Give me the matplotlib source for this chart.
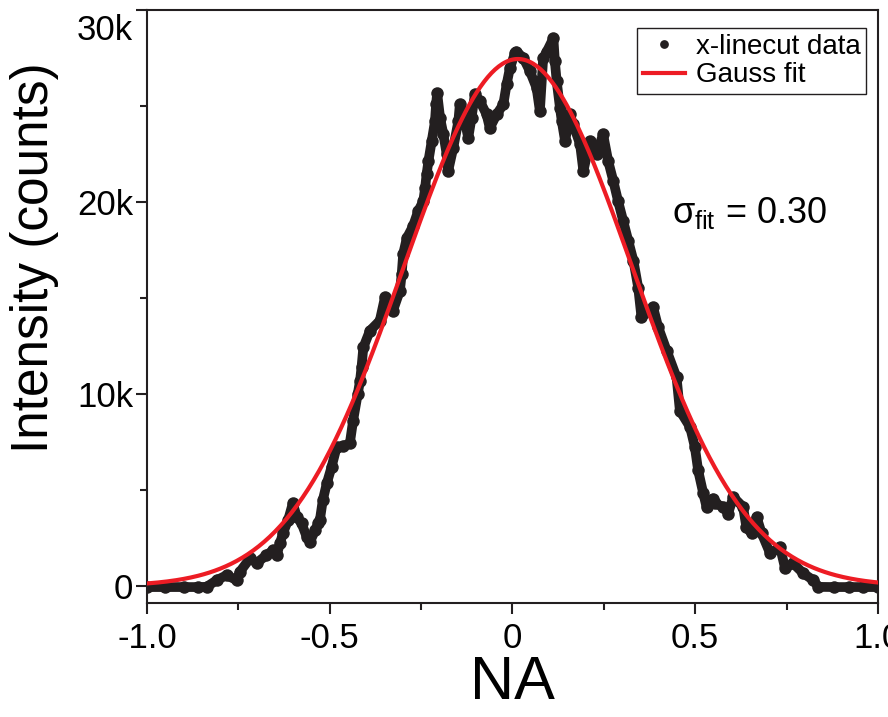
import numpy as np
import matplotlib
matplotlib.use("Agg")
import matplotlib.pyplot as plt
from matplotlib.transforms import ScaledTranslation

plt.rcParams['font.family'] = ['Liberation Sans', 'DejaVu Sans']
plt.rcParams['mathtext.fontset'] = 'custom'
plt.rcParams['mathtext.rm'] = 'Liberation Sans'
plt.rcParams['mathtext.it'] = 'Liberation Sans'

# x-linecut data
na = [-1.0, -0.95, -0.90, -0.86, -0.837, -0.809, -0.782, -0.755, -0.746, -0.718,
      -0.700, -0.673, -0.655, -0.645, -0.636, -0.628, -0.614, -0.601, -0.590, -0.577,
      -0.563, -0.554, -0.540, -0.531, -0.527, -0.519, -0.508, -0.495, -0.481, -0.463,
      -0.445, -0.436, -0.423, -0.417, -0.413, -0.408, -0.390, -0.363, -0.349, -0.327,
      -0.308, -0.303, -0.299, -0.289, -0.272, -0.258, -0.244, -0.239, -0.235, -0.230,
      -0.221, -0.212, -0.209, -0.206, -0.198, -0.189, -0.180, -0.176, -0.162, -0.148,
      -0.144, -0.130, -0.121, -0.112, -0.103, -0.089, -0.071, -0.062, -0.043, -0.025,
      -0.016, -0.007, 0.007, 0.011, 0.030, 0.048, 0.066, 0.075, 0.084, 0.094,
      0.112, 0.116, 0.121, 0.130, 0.135, 0.144, 0.157, 0.166, 0.185, 0.194,
      0.212, 0.230, 0.248, 0.262, 0.276, 0.289, 0.303, 0.317, 0.331, 0.344,
      0.353, 0.385, 0.399, 0.422, 0.449, 0.458, 0.486, 0.499, 0.508, 0.522,
      0.531, 0.549, 0.554, 0.577, 0.590, 0.604, 0.631, 0.640, 0.654, 0.668,
      0.682, 0.705, 0.732, 0.746, 0.768, 0.796, 0.823, 0.837, 0.88, 0.92,
      0.96, 1.0]
counts = [-50, -50, -50, -50, -40, 310, 570, 310, 740, 1450,
          1200, 1610, 1870, 1610, 2230, 2750, 3430, 4310, 3600, 3270,
          2560, 2300, 2910, 3270, 3430, 4470, 5350, 6200, 7240, 7300,
          7430, 8620, 10030, 10700, 11390, 12430, 13300, 13820, 15030, 14340,
          15380, 16260, 17300, 18130, 18750, 19530, 20050, 20740, 21440, 22130,
          23170, 24210, 25090, 25680, 24380, 23530, 22490, 21610, 22820, 24210,
          25090, 24210, 23340, 24380, 25610, 25250, 24570, 23860, 24570, 25090,
          26130, 26980, 27760, 27840, 27500, 26800, 25940, 24740, 27500, 27840,
          28540, 27330, 26290, 24900, 24210, 23170, 24570, 24050, 23010, 21610,
          23170, 22490, 23530, 22130, 21090, 20050, 19010, 17970, 16940, 15550,
          13990, 14510, 13470, 12260, 10870, 9140, 8280, 7240, 6030, 4830,
          4120, 4560, 4310, 4120, 3780, 4640, 4120, 3080, 2740, 3600,
          2740, 1700, 2040, 920, 1180, 660, 310, -40, -50, -50,
          -50, -50]

# Gauss fit parameters
amp = 27450
x0 = 0.015
sigma = 0.312

xticks = [-1.0, -0.5, 0.0, 0.5, 1.0]
xticklabels = ['-1.0', '-0.5', '0', '0.5', '1.0']
yticks = [0, 10000, 20000, 30000]
yticklabels = ['0', '10k', '20k', '30k']

dark = '#231F20'
red = '#ED1C24'

fig = plt.figure(figsize=(8.88, 7.17), dpi=100)
ax = fig.add_axes([0.1655, 0.159, 0.8232, 0.827])

ax.plot(na, counts, color=dark, lw=7, solid_capstyle='round', solid_joinstyle='round', zorder=2)
ax.plot(na, counts, 'o', color=dark, ms=9, mew=0, label='x-linecut data', zorder=2)
xf = np.linspace(-1, 1, 400)
ax.plot(xf, amp * np.exp(-(xf - x0) ** 2 / (2 * sigma ** 2)), color=red, lw=3,
        label='Gauss fit', zorder=3)

ax.set_xlim(-1, 1)
ax.set_ylim(-880, 30000)
ax.set_xticks(xticks)
ax.set_xticklabels(xticklabels)
ax.set_xticks([-0.75, -0.25, 0.25, 0.75], minor=True)
ax.set_yticks(yticks)
ax.set_yticklabels(yticklabels)
ax.set_yticks([5000, 15000, 25000], minor=True)

for s in ax.spines.values():
    s.set_linewidth(1.5)
    s.set_color(dark)
ax.tick_params(which='major', direction='out', length=8, width=1.5, color=dark,
               labelsize=25, top=False, right=False)
ax.tick_params(which='minor', direction='out', length=5, width=1.5, color=dark,
               top=False, right=False)
ax.tick_params(axis='y', which='major', pad=2)
ax.tick_params(axis='x', which='major', pad=6)

# top label sits a bit below its tick
top_lab = ax.get_yticklabels()[-1]
top_lab.set_transform(top_lab.get_transform() + ScaledTranslation(0, -12 / 72, fig.dpi_scale_trans))

ax.set_xlabel('NA', fontsize=44, labelpad=0)
ax.set_ylabel('Intensity (counts)', fontsize=37)
ax.yaxis.set_label_coords(-0.12, 0.583)

ax.text(0.436, 18900, r'$\sigma_{\rm fit}$ = 0.30', fontsize=26, ha='left', va='baseline')

leg = ax.legend(loc='upper right', bbox_to_anchor=(0.9836, 0.9696), fontsize=20,
                frameon=True, fancybox=False, edgecolor=dark, framealpha=1,
                handlelength=1.5, handletextpad=0.4, borderpad=0.2, labelspacing=0.1,
                borderaxespad=0, markerscale=0.7)
leg.get_frame().set_linewidth(1.0)

fig.savefig('out.png', dpi=100)
